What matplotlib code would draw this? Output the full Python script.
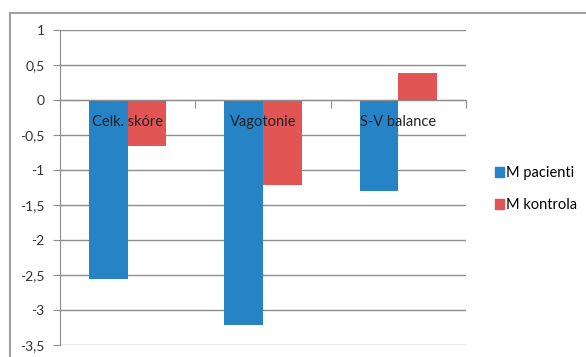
import matplotlib.pyplot as plt
import numpy as np
from matplotlib.patches import Patch
from matplotlib.lines import Line2D

# data
kategorie = ["Celk. skóre", "Vagotonie", "S-V balance"]
m_pacienti = [-2.56, -3.21, -1.30]
m_kontrola = [-0.66, -1.21, 0.39]
serie = ["M pacienti", "M kontrola"]
barvy = ["#2683C6", "#E15554"]

plt.rcParams['font.family'] = ['Lato', 'DejaVu Sans']

W, H = 586, 357
fig = plt.figure(figsize=(W / 100, H / 100), dpi=100)
ax = fig.add_axes([60 / W, (H - 345) / H, 406 / W, 315 / H])

x = np.arange(len(kategorie))
sirka = 1 / 3.5
ax.bar(x - sirka / 2, m_pacienti, sirka, color=barvy[0], zorder=2)
ax.bar(x + sirka / 2, m_kontrola, sirka, color=barvy[1], zorder=2)

ax.set_xlim(-0.5, len(kategorie) - 0.5)
ax.set_ylim(-3.5, 1)
yt = np.arange(-3.5, 1.01, 0.5)
ax.set_yticks(yt)
ax.set_yticklabels([("%g" % v).replace(".", ",") for v in yt], fontsize=10, color="#333333")
ax.tick_params(axis='y', length=5, color="#8c8c8c", pad=6)
ax.yaxis.grid(True, color="#8c8c8c", linewidth=1, zorder=0)
ax.set_axisbelow(True)

# osa x na nule, znacky na hranicich kategorii
ax.spines['bottom'].set_position(('data', 0))
ax.spines['bottom'].set_color("#8c8c8c")
ax.spines['bottom'].set_zorder(3)
ax.set_xticks(np.arange(-0.5, len(kategorie), 1))
ax.set_xticklabels([])
ax.tick_params(axis='x', length=6, color="#8c8c8c", direction='out')
ax.spines['left'].set_color("#8c8c8c")
ax.spines['top'].set_visible(False)
ax.spines['right'].set_visible(False)

for i, k in enumerate(kategorie):
    ax.annotate(k, (i, 0), xytext=(0, -22), textcoords='offset pixels',
                ha='center', va='center', fontsize=10.5, color="#222222", zorder=5)

# legenda
handles = [Patch(color=c) for c in barvy]
fig.legend(handles, serie, loc='upper left', bbox_to_anchor=(495 / W, 1 - 166 / H),
           frameon=False, fontsize=10.5, handlelength=0.6, handleheight=0.75,
           handletextpad=0.15, labelspacing=1.25, borderaxespad=0, borderpad=0)

# ramecek grafu
fig.add_artist(Line2D([10 / W, 1], [1 - 13 / H, 1 - 13 / H], color="#a0a0a0", lw=1.5))
fig.add_artist(Line2D([10 / W, 10 / W], [0, 1 - 13 / H], color="#a0a0a0", lw=1.5))

fig.savefig("out.png", dpi=100)
